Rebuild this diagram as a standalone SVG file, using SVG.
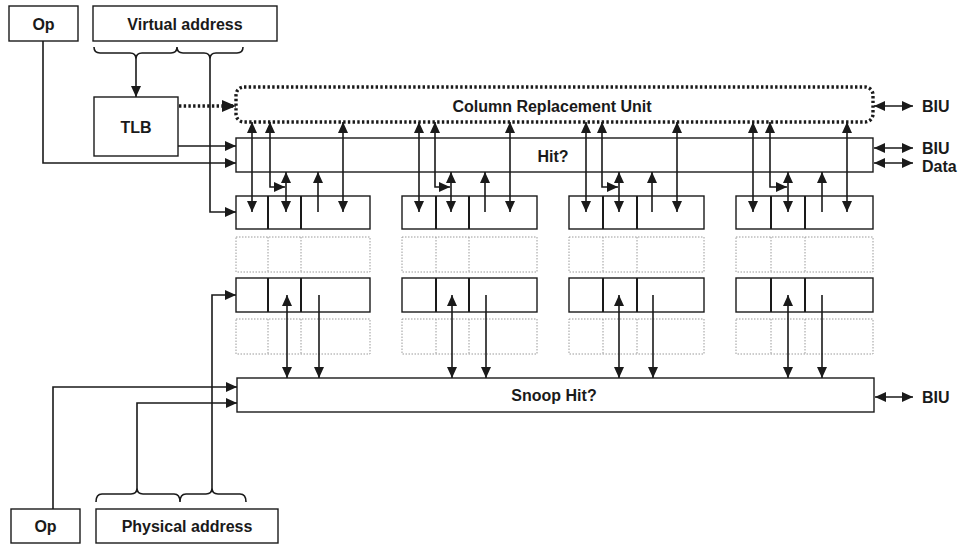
<svg xmlns="http://www.w3.org/2000/svg" width="963" height="546" viewBox="0 0 963 546">
  <style>
    .box { fill: #fff; stroke: #1a1a1a; stroke-width: 1.4; }
    .div { stroke: #1a1a1a; stroke-width: 2; }
    .ghost { fill: none; stroke: #9a9a9a; stroke-width: 1; stroke-dasharray: 1.5 1.5; }
    .dotbox { fill: none; stroke: #1a1a1a; stroke-width: 3.4; stroke-dasharray: 2.4 2.3; }
    .lbl { font-family: "Liberation Sans", Arial, sans-serif; font-weight: bold; font-size: 16px; fill: #1a1a1a; text-anchor: middle; }
    .side { font-family: "Liberation Sans", Arial, sans-serif; font-weight: bold; font-size: 16px; fill: #1a1a1a; }
    .wire { fill: none; stroke: #1a1a1a; stroke-width: 1.6; }
    .dotwire { fill: none; stroke: #1a1a1a; stroke-width: 3.4; stroke-dasharray: 2.4 2.3; marker-end: url(#ahBig); }
    .one { marker-end: url(#ah); }
    .two { marker-start: url(#ah); marker-end: url(#ah); }
    .brace { fill: none; stroke: #1a1a1a; stroke-width: 1.6; }
  </style>
  <defs>
    <marker id="ah" viewBox="0 0 11 10" refX="11" refY="5" markerWidth="11" markerHeight="10" orient="auto-start-reverse" markerUnits="userSpaceOnUse">
      <path d="M0,0 L11,5 L0,10 z" fill="#1a1a1a"/>
    </marker>
    <marker id="ahBig" viewBox="0 0 14 12" refX="14" refY="6" markerWidth="14" markerHeight="12" orient="auto" markerUnits="userSpaceOnUse">
      <path d="M0,0 L14,6 L0,12 z" fill="#1a1a1a"/>
    </marker>
  </defs>
  <rect width="963" height="546" fill="#fff"/>

  <!-- inputs -->
  <g id="op-top">
    <rect class="box" x="9" y="6" width="69" height="35"/>
    <text class="lbl" x="43.5" y="30">Op</text>
  </g>
  <g id="virtual-address">
    <rect class="box" x="93" y="6" width="184" height="35"/>
    <text class="lbl" x="185" y="30">Virtual address</text>
    <path class="brace" d="M94,47 Q94,53 100,53 L130,53 Q136,53 136,59 Q136,53 142,53 L171,53 Q177,53 177,47 Q177,53 183,53 L204,53 Q210,53 210,59 Q210,53 216,53 L237,53 Q243,53 243,47"/>
  </g>
  <g id="tlb">
    <rect class="box" x="94" y="97" width="84" height="59"/>
    <text class="lbl" x="136" y="133">TLB</text>
  </g>
  <g id="op-bottom">
    <rect class="box" x="11" y="509" width="69" height="34"/>
    <text class="lbl" x="45.5" y="532">Op</text>
  </g>
  <g id="physical-address">
    <rect class="box" x="96" y="509" width="182" height="34"/>
    <text class="lbl" x="187" y="532">Physical address</text>
    <path class="brace" d="M96,502 Q96,494 102,494 L131,494 Q137,494 137,488 Q137,494 143,494 L174,494 Q180,494 180,502 Q180,494 186,494 L206,494 Q212,494 212,488 Q212,494 218,494 L240,494 Q246,494 246,502"/>
  </g>

  <!-- shared units -->
  <g id="column-replacement-unit">
    <rect class="dotbox" x="236" y="87" width="637" height="35" rx="8"/>
    <text class="lbl" x="552" y="112">Column Replacement Unit</text>
  </g>
  <g id="hit">
    <rect class="box" x="236" y="138" width="637" height="34"/>
    <text class="lbl" x="553" y="162">Hit?</text>
  </g>
  <g id="snoop-hit">
    <rect class="box" x="237" y="378" width="637" height="34"/>
    <text class="lbl" x="554" y="401">Snoop Hit?</text>
  </g>

  <!-- cache columns: two live rows and two idle rows each -->
  <g id="col1">
    <rect class="box" x="236" y="196" width="134" height="33"/>
    <line class="div" x1="268" y1="196" x2="268" y2="229"/>
    <line class="div" x1="301" y1="196" x2="301" y2="229"/>
    <rect class="ghost" x="236" y="237" width="134" height="35"/>
    <line class="ghost" x1="268" y1="237" x2="268" y2="272"/>
    <line class="ghost" x1="301" y1="237" x2="301" y2="272"/>
    <rect class="box" x="236" y="278" width="134" height="34"/>
    <line class="div" x1="268" y1="278" x2="268" y2="312"/>
    <line class="div" x1="301" y1="278" x2="301" y2="312"/>
    <rect class="ghost" x="236" y="319" width="134" height="35"/>
    <line class="ghost" x1="268" y1="319" x2="268" y2="354"/>
    <line class="ghost" x1="301" y1="319" x2="301" y2="354"/>
  </g>
  <g id="col2">
    <rect class="box" x="402" y="196" width="135" height="33"/>
    <line class="div" x1="436" y1="196" x2="436" y2="229"/>
    <line class="div" x1="469" y1="196" x2="469" y2="229"/>
    <rect class="ghost" x="402" y="237" width="135" height="35"/>
    <line class="ghost" x1="436" y1="237" x2="436" y2="272"/>
    <line class="ghost" x1="469" y1="237" x2="469" y2="272"/>
    <rect class="box" x="402" y="278" width="135" height="34"/>
    <line class="div" x1="436" y1="278" x2="436" y2="312"/>
    <line class="div" x1="469" y1="278" x2="469" y2="312"/>
    <rect class="ghost" x="402" y="319" width="135" height="35"/>
    <line class="ghost" x1="436" y1="319" x2="436" y2="354"/>
    <line class="ghost" x1="469" y1="319" x2="469" y2="354"/>
  </g>
  <g id="col3">
    <rect class="box" x="569" y="196" width="135" height="33"/>
    <line class="div" x1="603" y1="196" x2="603" y2="229"/>
    <line class="div" x1="637" y1="196" x2="637" y2="229"/>
    <rect class="ghost" x="569" y="237" width="135" height="35"/>
    <line class="ghost" x1="603" y1="237" x2="603" y2="272"/>
    <line class="ghost" x1="637" y1="237" x2="637" y2="272"/>
    <rect class="box" x="569" y="278" width="135" height="34"/>
    <line class="div" x1="603" y1="278" x2="603" y2="312"/>
    <line class="div" x1="637" y1="278" x2="637" y2="312"/>
    <rect class="ghost" x="569" y="319" width="135" height="35"/>
    <line class="ghost" x1="603" y1="319" x2="603" y2="354"/>
    <line class="ghost" x1="637" y1="319" x2="637" y2="354"/>
  </g>
  <g id="col4">
    <rect class="box" x="736" y="196" width="137" height="33"/>
    <line class="div" x1="771" y1="196" x2="771" y2="229"/>
    <line class="div" x1="805" y1="196" x2="805" y2="229"/>
    <rect class="ghost" x="736" y="237" width="137" height="35"/>
    <line class="ghost" x1="771" y1="237" x2="771" y2="272"/>
    <line class="ghost" x1="805" y1="237" x2="805" y2="272"/>
    <rect class="box" x="736" y="278" width="137" height="34"/>
    <line class="div" x1="771" y1="278" x2="771" y2="312"/>
    <line class="div" x1="805" y1="278" x2="805" y2="312"/>
    <rect class="ghost" x="736" y="319" width="137" height="35"/>
    <line class="ghost" x1="771" y1="319" x2="771" y2="354"/>
    <line class="ghost" x1="805" y1="319" x2="805" y2="354"/>
  </g>

  <!-- bus interface labels -->
  <g id="biu-labels">
    <text class="side" x="922" y="112">BIU</text>
    <text class="side" x="922" y="154">BIU</text>
    <text class="side" x="922" y="172">Data</text>
    <text class="side" x="922" y="403">BIU</text>
  </g>

  <g id="connectors">
    <!-- address and op feeds -->
    <path class="wire one" d="M136,59 V97"/>
    <path class="dotwire" d="M179,106 H236"/>
    <path class="wire one" d="M178,146 H236"/>
    <path class="wire one" d="M43,41 V163 H236"/>
    <path class="wire one" d="M210,59 V212 H236"/>
    <path class="wire one" d="M212,488 V295 H236"/>
    <path class="wire one" d="M137,488 V403 H237"/>
    <path class="wire one" d="M53,509 V387 H237"/>

    <!-- BIU links -->
    <path class="wire two" d="M874,106 H913"/>
    <path class="wire two" d="M874,148 H913"/>
    <path class="wire two" d="M874,163 H913"/>
    <path class="wire two" d="M875,397 H913"/>

    <!-- column 1 -->
    <path class="wire two" d="M252,122 V212"/>
    <path class="wire two" d="M270,122 V187 H285"/>
    <path class="wire two" d="M286,172 V212"/>
    <path class="wire one" d="M318,212 V172"/>
    <path class="wire two" d="M343,122 V212"/>
    <path class="wire two" d="M287,295 V378"/>
    <path class="wire one" d="M319,295 V378"/>

    <!-- column 2 -->
    <path class="wire two" d="M419,122 V212"/>
    <path class="wire two" d="M435,122 V187 H450"/>
    <path class="wire two" d="M451,172 V212"/>
    <path class="wire one" d="M485,212 V172"/>
    <path class="wire two" d="M510,122 V212"/>
    <path class="wire two" d="M452,295 V378"/>
    <path class="wire one" d="M486,295 V378"/>

    <!-- column 3 -->
    <path class="wire two" d="M586,122 V212"/>
    <path class="wire two" d="M602,122 V187 H618"/>
    <path class="wire two" d="M619,172 V212"/>
    <path class="wire one" d="M652,212 V172"/>
    <path class="wire two" d="M677,122 V212"/>
    <path class="wire two" d="M619,295 V378"/>
    <path class="wire one" d="M653,295 V378"/>

    <!-- column 4 -->
    <path class="wire two" d="M753,122 V212"/>
    <path class="wire two" d="M770,122 V187 H787"/>
    <path class="wire two" d="M788,172 V212"/>
    <path class="wire one" d="M822,212 V172"/>
    <path class="wire two" d="M847,122 V212"/>
    <path class="wire two" d="M788,295 V378"/>
    <path class="wire one" d="M822,295 V378"/>
  </g>
</svg>
